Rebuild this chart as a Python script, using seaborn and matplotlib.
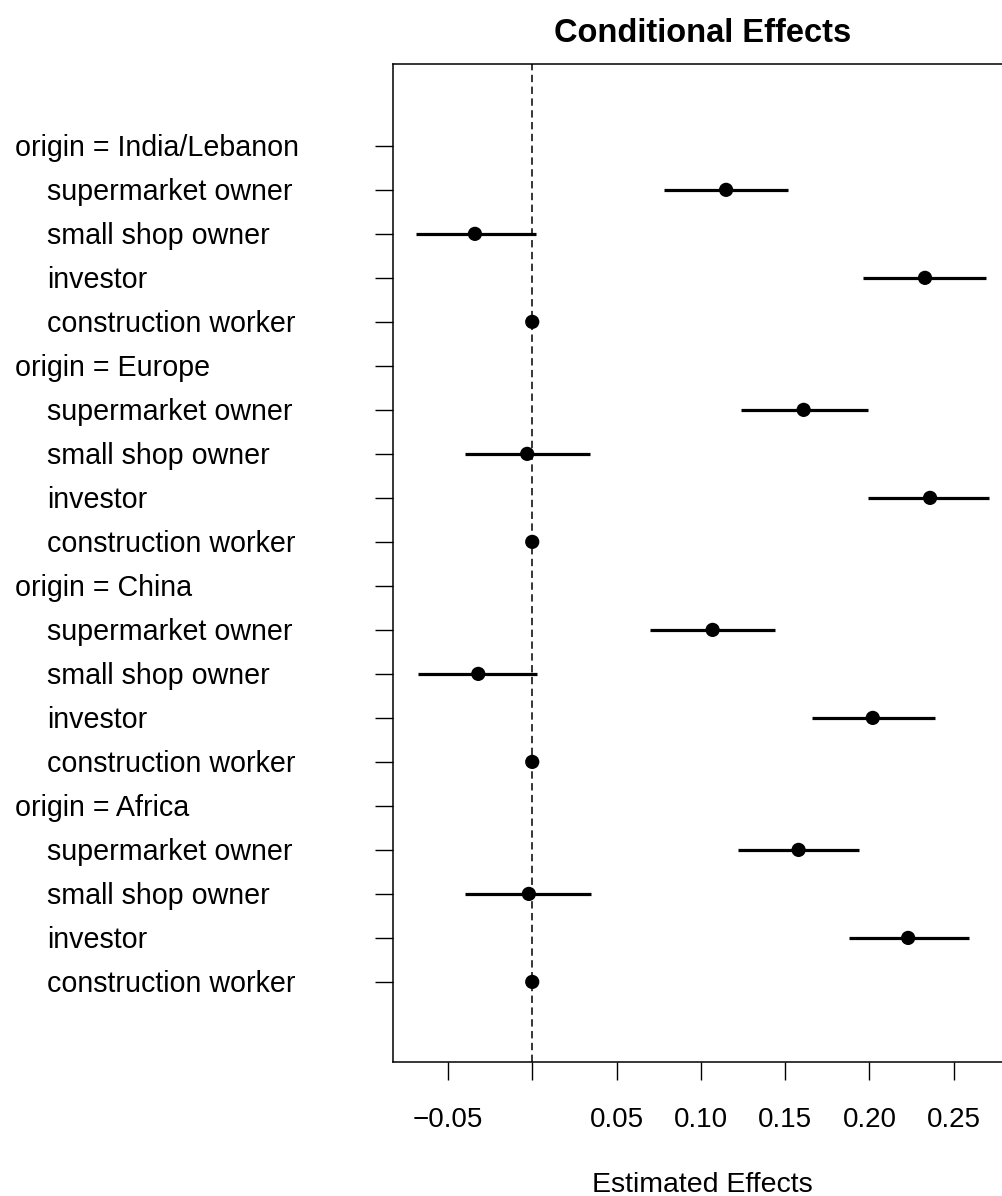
"""
Conditional effects forest plot (point estimates with 95% intervals).
"""

import matplotlib
matplotlib.use("Agg")
import matplotlib.pyplot as plt
import matplotlib.transforms as mtransforms
import seaborn as sns
import numpy as np
import pandas as pd

sns.set_style("white")
plt.rcParams['font.family'] = ['Liberation Sans', 'DejaVu Sans']
plt.rcParams['lines.scale_dashes'] = False
plt.rcParams['text.color'] = 'black'
plt.rcParams['axes.labelcolor'] = 'black'
plt.rcParams['xtick.color'] = 'black'
plt.rcParams['ytick.color'] = 'black'

# --- data ---
origins = ["India/Lebanon", "Europe", "China", "Africa"]
occupations = ["supermarket owner", "small shop owner", "investor", "construction worker"]

est_india = [0.115, -0.034, 0.233, 0.0]
lo_india = [0.078, -0.069, 0.196, 0.0]
hi_india = [0.152, 0.002, 0.269, 0.0]

est_europe = [0.161, -0.003, 0.236, 0.0]
lo_europe = [0.124, -0.040, 0.199, 0.0]
hi_europe = [0.199, 0.034, 0.271, 0.0]

est_china = [0.107, -0.032, 0.202, 0.0]
lo_china = [0.070, -0.068, 0.166, 0.0]
hi_china = [0.144, 0.003, 0.239, 0.0]

est_africa = [0.158, -0.002, 0.223, 0.0]
lo_africa = [0.122, -0.040, 0.188, 0.0]
hi_africa = [0.194, 0.035, 0.259, 0.0]

xtick_values = [-0.05, 0.0, 0.05, 0.10, 0.15, 0.20, 0.25]
xtick_labels = ["\u22120.05", "", "0.05", "0.10", "0.15", "0.20", "0.25"]

# Build long table: one header row per origin, then its occupations
blocks = [
    (est_india, lo_india, hi_india),
    (est_europe, lo_europe, hi_europe),
    (est_china, lo_china, hi_china),
    (est_africa, lo_africa, hi_africa),
]
rows = []
for origin, (est, lo, hi) in zip(origins, blocks):
    rows.append({"label": f"origin = {origin}", "header": True,
                 "est": np.nan, "lo": np.nan, "hi": np.nan})
    for occ, e, l, h in zip(occupations, est, lo, hi):
        rows.append({"label": occ, "header": False, "est": e, "lo": l, "hi": h})
df = pd.DataFrame(rows)
df["row"] = np.arange(len(df))

# --- figure ---
fig = plt.figure(figsize=(10.02, 11.96), dpi=100)
ax = fig.add_axes([393 / 1002, 1 - 1062 / 1196, (1012 - 393) / 1002, 998 / 1196])

vals = df.dropna()
ax.hlines(vals["row"], vals["lo"], vals["hi"], color="black", linewidth=2.3, zorder=2)
sns.scatterplot(data=vals, x="est", y="row", color="black", s=105,
                edgecolor="none", legend=False, ax=ax, zorder=3)
ax.axvline(0, color="black", linewidth=1.1, linestyle=(0, (5.3, 3.2)), zorder=1)

# R-style axis range: data range padded by 4%
xmin, xmax = vals["lo"].min(), vals["hi"].max()
pad = 0.04 * (xmax - xmin)
ax.set_xlim(xmin - pad, xmax + pad)
ax.set_ylim(len(df) - 1 + 1.82, -1.86)

ax.set_xticks(xtick_values)
ax.set_xticklabels(xtick_labels)
ax.set_yticks(df["row"])
ax.set_yticklabels([])
ax.tick_params(axis="both", direction="out", length=13, width=1.0,
               color="black", labelcolor="black", labelsize=20,
               left=True, bottom=True)
ax.tick_params(axis="x", pad=19.4)

for side in ["left", "top", "bottom"]:
    ax.spines[side].set_color("black")
    ax.spines[side].set_linewidth(1.1)
ax.spines["right"].set_visible(False)

ax.set_xlabel("Estimated Effects", fontsize=20.5, color="black")
ax.xaxis.set_label_coords(0.5, -0.110)
ax.set_ylabel("")
ax.set_title("Conditional Effects", fontsize=23.5, fontweight="bold",
             color="black", pad=16)

# left-aligned row labels, headers flush left and items indented
trans = mtransforms.blended_transform_factory(fig.transFigure, ax.transData)
trans = trans + mtransforms.ScaledTranslation(0, -9.8 / 100, fig.dpi_scale_trans)
for _, r in df.iterrows():
    x = 15 / 1002 if r["header"] else 47 / 1002
    fig.text(x, r["row"], r["label"], transform=trans, ha="left",
             va="baseline", fontsize=20.6, color="black")

fig.savefig("out.png", dpi=100)
